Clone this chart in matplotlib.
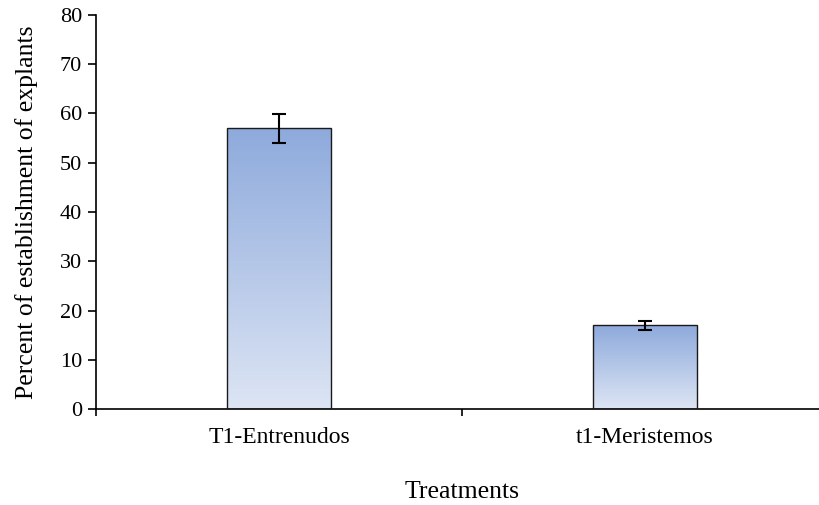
import numpy as np
import matplotlib
matplotlib.use("Agg")
from matplotlib import pyplot as plt
from matplotlib.colors import LinearSegmentedColormap

treatments = ["T1-Entrenudos", "t1-Meristemos"]
percent = [57.0, 17.0]
errors = [2.9, 0.9]

plt.rcParams['font.family'] = ['Liberation Serif', 'DejaVu Serif']

fig = plt.figure(figsize=(8.2, 5.05), dpi=100)
ax = fig.add_axes([96 / 820, 1 - 409 / 505, 732 / 820, 394 / 505])

x = np.arange(len(treatments))
bars = ax.bar(x, percent, width=0.284, color="none", edgecolor="#1a1a1a",
              linewidth=1.0, zorder=3)
ax.errorbar(x, percent, yerr=errors, fmt="none", ecolor="black",
            elinewidth=1.5, capsize=5, capthick=1.5, zorder=4)

cmap = LinearSegmentedColormap.from_list("g", ["#dde5f4", "#8eaadc"])
grad = np.linspace(0, 1, 256).reshape(-1, 1)
for b in bars:
    x0, w, h = b.get_x(), b.get_width(), b.get_height()
    im = ax.imshow(grad, cmap=cmap, origin="lower", aspect="auto",
                   extent=[x0, x0 + w, 0, h], zorder=2)
    im.set_clip_path(b)

ax.set_xlim(-0.5, 1.5)
ax.set_ylim(0, 80)
ax.set_yticks(np.arange(0, 81, 10))
ax.set_xticks(x)
ax.set_xticklabels(treatments, fontsize=17)
ax.tick_params(axis="x", length=0, pad=13)
ax.set_xticks([-0.5, 0.5, 1.5], minor=True)
ax.tick_params(axis="x", which="minor", direction="out", length=5, width=1.2)
ax.tick_params(axis="y", direction="out", length=6, width=1.2, labelsize=16, pad=4)
for s in ["top", "right"]:
    ax.spines[s].set_visible(False)
ax.spines["left"].set_linewidth(1.2)
ax.spines["bottom"].set_linewidth(1.2)

ax.set_ylabel("Percent of establishment of explants", fontsize=18.5, labelpad=16)
ax.set_xlabel("Treatments", fontsize=18.5, labelpad=24)

fig.savefig("out.png", dpi=100)
